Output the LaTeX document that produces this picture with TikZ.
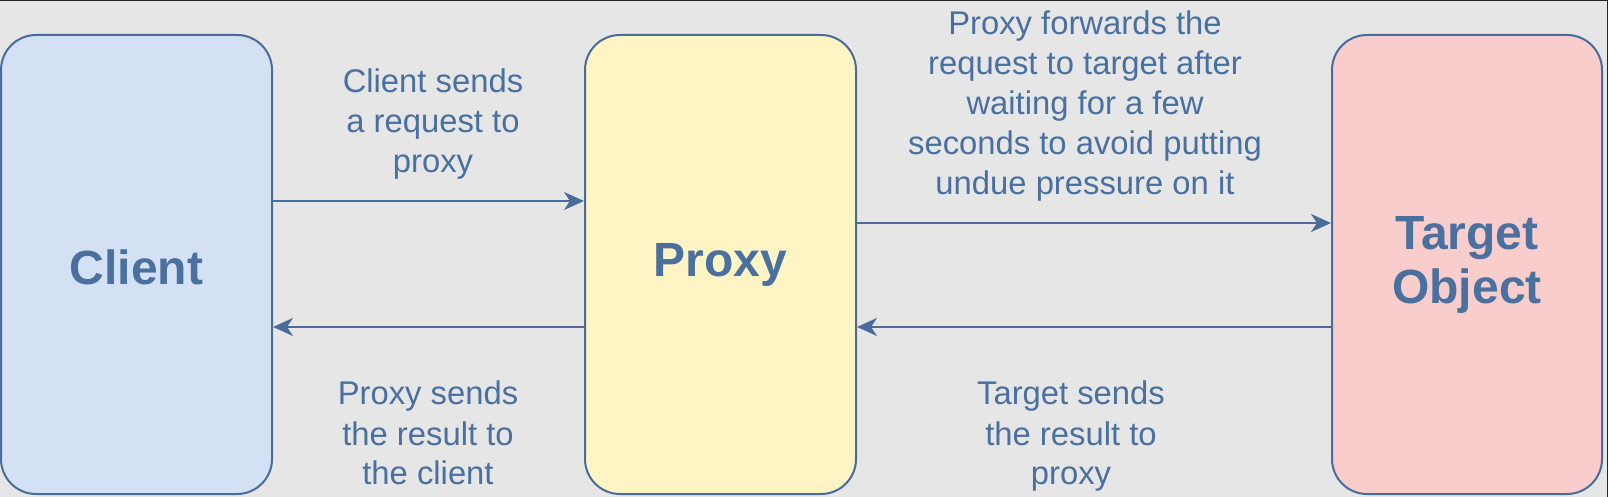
\documentclass[tikz,border=0pt]{standalone}
\usepackage{fontspec}
\setmainfont{Liberation Sans}
\usetikzlibrary{arrows.meta}
\definecolor{bg}{HTML}{E6E6E6}
\definecolor{strk}{HTML}{4A6C9A}
\definecolor{txt}{HTML}{4A70A0}
\definecolor{clientfill}{HTML}{D4E1F4}
\definecolor{proxyfill}{HTML}{FFF4C3}
\definecolor{targetfill}{HTML}{F8CDCC}
\tikzset{
  px/.style={x=0.5pt,y=-0.5pt},
  box/.style={draw=strk, line width=1pt, rounded corners=17.5pt, minimum width=135.5pt, minimum height=229.5pt, inner sep=0pt, align=center, text=txt, font=\fontsize{24pt}{27pt}\selectfont\bfseries},
  lbl/.style={text=txt, align=center, inner sep=0pt, anchor=base, font=\fontsize{16.4pt}{20pt}\selectfont},
  conn/.style={draw=strk, line width=1.1pt, -{Stealth[length=10pt,width=9pt,inset=3pt]}}
}
\begin{document}
\begin{tikzpicture}[px]
\fill[bg] (0,0) rectangle (1608,497);
\useasboundingbox (0,0) rectangle (1608,497);
\draw[black!85, line width=1pt] (0,0.5) -- (1608,0.5);
\draw[black!85, line width=1pt] (1607.5,0) -- (1607.5,497);
\node[box, fill=clientfill, text height=20pt, text depth=0pt] (client) at (136.5,264.5) {Client};
\node[box, fill=proxyfill] (proxy) at (720.5,264.5) {Proxy};
\node[box, fill=targetfill, minimum width=135pt] (target) at (1467,264.5) {Target\\Object};
\draw[conn] ([yshift=31.75pt]client.east) -- ([yshift=31.75pt]proxy.west);
\draw[conn] ([yshift=20.75pt]proxy.east) -- ([yshift=20.75pt]target.west);
\draw[conn] ([yshift=-31.25pt]target.west) -- ([yshift=-31.25pt]proxy.east);
\draw[conn] ([yshift=-31.25pt]proxy.west) -- ([yshift=-31.25pt]client.east);
\node[lbl] (l1) at (433,173) {Client sends\\a request to\\proxy};
\node[lbl] (l2) at (1085,195) {Proxy forwards the\\request to target after\\waiting for a few\\seconds to avoid putting\\undue pressure on it};
\node[lbl] (l3) at (428,485) {Proxy sends\\the result to\\the client};
\node[lbl] (l4) at (1071,485) {Target sends\\the result to\\proxy};
\end{tikzpicture}
\end{document}
